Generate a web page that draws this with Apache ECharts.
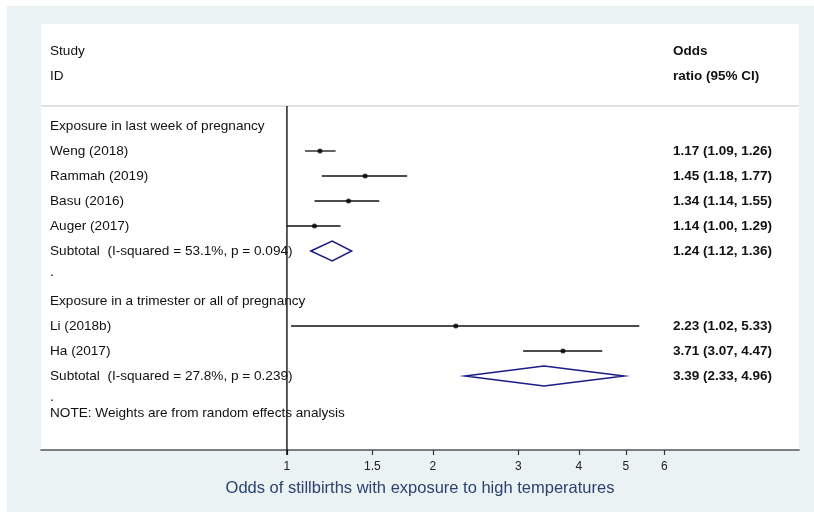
<!DOCTYPE html>
<html><head><meta charset="utf-8">
<script src="https://cdn.jsdelivr.net/npm/echarts@6/dist/echarts.min.js"></script>
<style>
html,body{margin:0;padding:0;background:#fff}
#c{width:814px;height:512px;background:#eaf2f3;box-shadow:inset 7px 6px 0 #fff}
</style>
</head><body><div id="c"></div>
<script>
// ---- data ----
const studyLabels = ['Weng (2018)', 'Rammah (2019)', 'Basu (2016)', 'Auger (2017)', 'Li (2018b)', 'Ha (2017)'];
const studyRows = [1, 2, 3, 4, 8, 9];
const studyOR = [1.17, 1.45, 1.34, 1.14, 2.23, 3.71];
const studyLo = [1.09, 1.18, 1.14, 1.00, 1.02, 3.07];
const studyHi = [1.26, 1.77, 1.55, 1.29, 5.33, 4.47];

const subLabels = ['Subtotal  (I-squared = 53.1%, p = 0.094)', 'Subtotal  (I-squared = 27.8%, p = 0.239)'];
const subRows = [5, 10];
const subOR = [1.24, 3.39];
const subLo = [1.12, 2.33];
const subHi = [1.36, 4.96];

const groupLabels = ['Exposure in last week of pregnancy', 'Exposure in a trimester or all of pregnancy'];
const groupRows = [0, 7];
const dotRows = [5.85, 10.85];

const headerLeft = ['Study', 'ID'];
const headerRight = ['Odds', 'ratio (95% CI)'];
const headerRows = [-3, -2];
const noteText = 'NOTE: Weights are from random effects analysis';
const noteRow = 11.48;

const tickValues = [1, 1.5, 2, 3, 4, 5, 6];
const axisTitle = 'Odds of stillbirths with exposure to high temperatures';
const xRange = [0.311, 11.38];
const yRange = [-4.08, 12.96];
const separatorRow = -0.8;

// ---- build ----
const FONT = "'Liberation Sans', Arial, sans-serif";
const fmt = v => v.toFixed(2);
const ciText = (o, l, h) => fmt(o) + ' (' + fmt(l) + ', ' + fmt(h) + ')';

const textRows = [];
headerRows.forEach((r, i) => textRows.push({ row: r, left: headerLeft[i], right: headerRight[i] }));
groupRows.forEach((r, i) => textRows.push({ row: r, left: groupLabels[i], right: '' }));
studyRows.forEach((r, i) => textRows.push({ row: r, left: studyLabels[i], right: ciText(studyOR[i], studyLo[i], studyHi[i]) }));
subRows.forEach((r, i) => textRows.push({ row: r, left: subLabels[i], right: ciText(subOR[i], subLo[i], subHi[i]) }));
dotRows.forEach(r => textRows.push({ row: r, left: '.', right: '' }));
textRows.push({ row: noteRow, left: noteText, right: '' });

const ln = Math.log;
const chart = echarts.init(document.getElementById('c'), null, { renderer: 'canvas' });

chart.setOption({
  backgroundColor: 'transparent',
  animation: false,
  grid: { left: 41, right: 15, top: 24, bottom: 62, show: true, backgroundColor: '#ffffff', borderWidth: 0 },
  xAxis: {
    type: 'value', min: ln(xRange[0]), max: ln(xRange[1]),
    splitLine: { show: false },
    axisLine: { onZero: false, lineStyle: { color: '#555555', width: 1.6 } },
    axisTick: { customValues: tickValues.map(ln), length: 5, lineStyle: { color: '#333333', width: 1.2 } },
    axisLabel: {
      customValues: tickValues.map(ln),
      formatter: v => String(parseFloat(Math.exp(v).toFixed(2))),
      color: '#222222', fontSize: 12, fontFamily: FONT, margin: 11
    },
    name: axisTitle, nameLocation: 'middle', nameGap: 30,
    nameTextStyle: { color: '#2e4170', fontSize: 16.5, fontFamily: FONT }
  },
  yAxis: { type: 'value', inverse: true, min: yRange[0], max: yRange[1], show: false },
  series: [
    { // separator + reference line
      type: 'custom', silent: true, data: [[0, separatorRow]],
      renderItem: (params, api) => {
        const cs = params.coordSys;
        const top = api.coord([0, separatorRow]);
        const bot = api.coord([0, yRange[1]]);
        return { type: 'group', children: [
          { type: 'line', shape: { x1: cs.x, y1: top[1], x2: cs.x + cs.width, y2: top[1] }, style: { stroke: '#c4c4c4', lineWidth: 1 } },
          { type: 'line', shape: { x1: top[0], y1: top[1], x2: bot[0], y2: bot[1] + 5 }, style: { stroke: '#000000', lineWidth: 1.3 } }
        ]};
      }
    },
    { // CI lines
      type: 'custom', silent: true,
      data: studyRows.map((r, i) => [ln(studyLo[i]), ln(studyHi[i]), r]),
      encode: { x: [0, 1], y: 2 },
      renderItem: (params, api) => {
        const a = api.coord([api.value(0), api.value(2)]);
        const b = api.coord([api.value(1), api.value(2)]);
        return { type: 'line', shape: { x1: a[0], y1: a[1], x2: b[0], y2: b[1] }, style: { stroke: '#111111', lineWidth: 1.3 } };
      }
    },
    { // point estimates
      type: 'scatter', silent: true, symbol: 'circle', symbolSize: 5,
      itemStyle: { color: '#000000' },
      data: studyRows.map((r, i) => [ln(studyOR[i]), r])
    },
    { // subtotal diamonds
      type: 'custom', silent: true,
      data: subRows.map((r, i) => [ln(subLo[i]), ln(subOR[i]), ln(subHi[i]), r]),
      encode: { x: [0, 1, 2], y: 3 },
      renderItem: (params, api) => {
        const y = api.value(3);
        const l = api.coord([api.value(0), y]);
        const m = api.coord([api.value(1), y]);
        const h = api.coord([api.value(2), y]);
        const d = 10;
        return { type: 'polygon', shape: { points: [[l[0], l[1]], [m[0], m[1] - d], [h[0], h[1]], [m[0], m[1] + d]] },
          style: { fill: 'none', stroke: '#1c1c84', lineWidth: 1.5 } };
      }
    },
    { // text columns
      type: 'custom', silent: true,
      data: textRows.map((t, i) => [0, t.row, i]),
      encode: { y: 1 },
      renderItem: (params, api) => {
        const cs = params.coordSys;
        const t = textRows[api.value(2)];
        const p = api.coord([0, api.value(1)]);
        const kids = [{ type: 'text', x: cs.x + 9, y: p[1], style: { text: t.left, fill: '#111111', font: '13.6px ' + FONT, verticalAlign: 'middle', align: 'left' } }];
        if (t.right) kids.push({ type: 'text', x: cs.x + 632, y: p[1], style: { text: t.right, fill: '#111111', font: 'bold 13.5px ' + FONT, verticalAlign: 'middle', align: 'left' } });
        return { type: 'group', children: kids };
      }
    }
  ]
});
</script>
</body></html>
